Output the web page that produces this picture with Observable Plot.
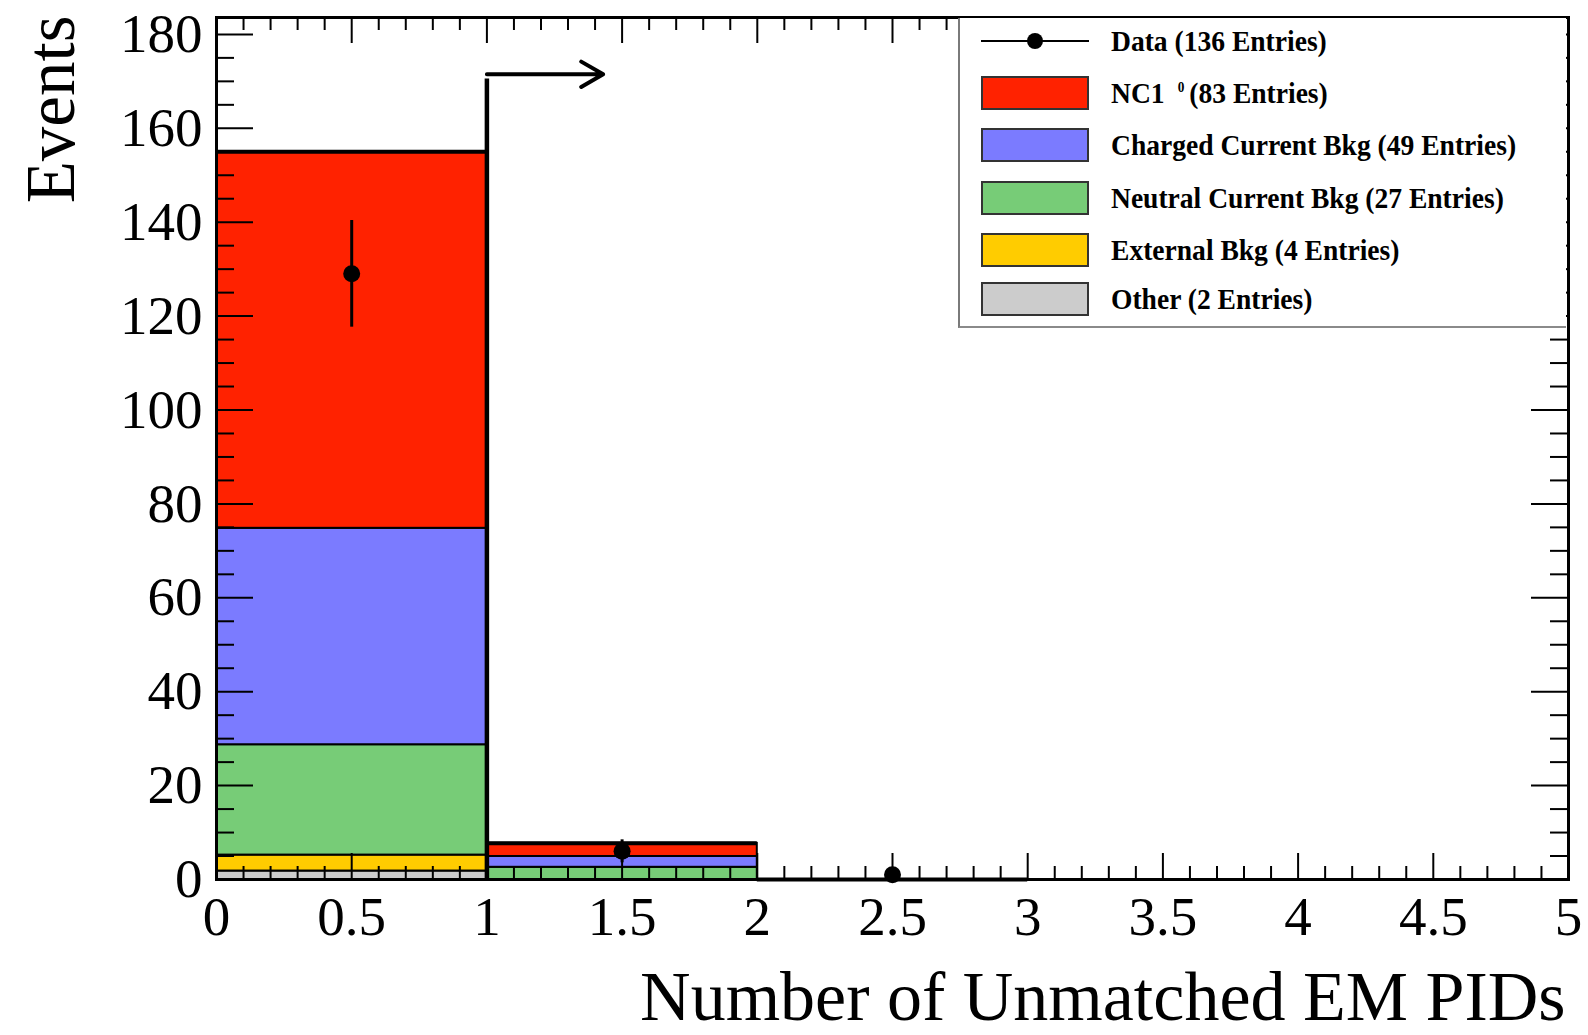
<!DOCTYPE html>
<html>
<head>
<meta charset="utf-8">
<script src="https://cdn.jsdelivr.net/npm/d3@7"></script>
<script src="https://cdn.jsdelivr.net/npm/@observablehq/plot@0.6"></script>
<style>
  html, body { margin: 0; padding: 0; background: #fff; }
  #chart { position: relative; width: 1588px; height: 1035px; overflow: hidden; }
  #legend {
    position: absolute; left: 958px; top: 18px; width: 608px; height: 310px;
    box-sizing: border-box; background: #fff;
    border-left: 2px solid #7a7a7a; border-bottom: 2px solid #8a8a8a;
    font-family: "Liberation Serif", "Times New Roman", serif; font-weight: bold; color: #000;
  }
  .row { position: absolute; left: 0; width: 100%; height: 0; }
  .swatch { position: absolute; left: 21px; width: 108px; height: 34px; top: -17px;
            box-sizing: border-box; border: 2px solid #333; }
  .mline { position: absolute; left: 21px; width: 108px; height: 2px; top: -1px; background: #000; }
  .mdot { position: absolute; left: 67px; width: 16px; height: 16px; top: -8px; border-radius: 50%; background: #000; }
  .label { position: absolute; left: 151px; top: -18px; font-size: 29px; line-height: 36px;
           white-space: nowrap; transform: scaleX(0.95); transform-origin: left center; }
  .label .sup { position: relative; top: -11px; font-size: 14px; margin-left: 14px; margin-right: 5px; }
</style>
</head>
<body>
<div id="chart"><div id="legend"></div></div>
<script>
// Histogram bins: number of unmatched EM PIDs
const binLo = [0, 1, 2];
const binHi = [1, 2, 3];

// Stacked Monte Carlo components (bottom to top)
const layerNames  = ["Other", "External Bkg", "Neutral Current Bkg", "Charged Current Bkg", "NC1pi0"];
const layerColors = ["#cccccc", "#ffcc00", "#77cc77", "#7b7bff", "#ff2200"];
const otherVals    = [1.8, 0, 0];
const externalVals = [3.4, 0, 0];
const neutralVals  = [23.5, 2.6, 0];
const chargedVals  = [46.1, 2.3, 0];
const nc1pi0Vals   = [80.2, 2.8, 0];
const layerValues  = [otherVals, externalVals, neutralVals, chargedVals, nc1pi0Vals];

// Observed data (bin centres and counts)
const dataX = [0.5, 1.5, 2.5];
const dataY = [129, 6, 1];

// Selection cut: x = 1 with an arrow towards accepted region
const cutX = 1;
const cutLineTop = 170.5;
const cutArrowY = 171.5;
const cutArrowEnd = 1.43;

// Axis ticks
const xTickLabels = [0, 0.5, 1, 1.5, 2, 2.5, 3, 3.5, 4, 4.5, 5];
const yTickLabels = [0, 20, 40, 60, 80, 100, 120, 140, 160, 180];
const xMinor = d3.range(0, 51).map(i => i / 10).filter(v => !xTickLabels.includes(v));
const yMinor = d3.range(0, 37).map(i => i * 5).filter(v => !yTickLabels.includes(v));

// Legend entries
const legendLabels = [
  "Data (136 Entries)",
  "NC1|(83 Entries)",
  "Charged Current Bkg (49 Entries)",
  "Neutral Current Bkg (27 Entries)",
  "External Bkg (4 Entries)",
  "Other (2 Entries)"
];

// Build stacked rectangles
const rects = [];
const totals = [];
binLo.forEach((lo, i) => {
  let base = 0;
  layerValues.forEach((vals, k) => {
    const v = vals[i];
    if (v > 0) rects.push({lo, hi: binHi[i], y1: base, y2: base + v, color: layerColors[k]});
    base += v;
  });
  totals.push({lo, hi: binHi[i], total: base});
});
const points = dataX.map((x, i) => ({x, y: dataY[i], lo: dataY[i] - Math.sqrt(dataY[i]), hi: dataY[i] + Math.sqrt(dataY[i])}));

const W = 1588, H = 1035;
const mL = 216, mR = 20, mT = 17, mB = 156;
const innerW = W - mL - mR, innerH = H - mT - mB;
const serif = "Liberation Serif";

const chart = Plot.plot({
  width: W, height: H,
  marginLeft: mL, marginRight: mR, marginTop: mT, marginBottom: mB,
  x: {domain: [0, 5]},
  y: {domain: [0, 183.6]},
  style: {fontFamily: serif, color: "#000", background: "#fff", overflow: "visible"},
  marks: [
    Plot.rect(rects, {x1: "lo", x2: "hi", y1: "y1", y2: "y2", fill: "color", stroke: "#000", strokeWidth: 2}),
    Plot.ruleY(totals, {x1: "lo", x2: "hi", y: "total", stroke: "#000", strokeWidth: 4}),
    Plot.ruleX([cutX], {x: d => d, y1: 0, y2: cutLineTop, stroke: "#000", strokeWidth: 4.5}),
    Plot.arrow([cutX], {x1: d => d, x2: cutArrowEnd, y1: cutArrowY, y2: cutArrowY,
      stroke: "#000", strokeWidth: 4, headLength: 9.5, headAngle: 60}),
    Plot.ruleX(points, {x: "x", y1: "lo", y2: "hi", stroke: "#000", strokeWidth: 3}),
    Plot.dot(points, {x: "x", y: "y", r: 8.5, fill: "#000"}),
    // inward ticks on all four sides
    Plot.ruleX(xTickLabels, {insetTop: innerH - 26, strokeWidth: 2}),
    Plot.ruleX(xMinor, {insetTop: innerH - 13, strokeWidth: 2}),
    Plot.ruleX(xTickLabels, {insetBottom: innerH - 26, strokeWidth: 2}),
    Plot.ruleX(xMinor, {insetBottom: innerH - 13, strokeWidth: 2}),
    Plot.ruleY(yTickLabels, {insetRight: innerW - 37, strokeWidth: 2}),
    Plot.ruleY(yMinor, {insetRight: innerW - 18, strokeWidth: 2}),
    Plot.ruleY(yTickLabels, {insetLeft: innerW - 37, strokeWidth: 2}),
    Plot.ruleY(yMinor, {insetLeft: innerW - 18, strokeWidth: 2}),
    Plot.frame({stroke: "#000", strokeWidth: 3}),
    Plot.axisX({ticks: xTickLabels, tickSize: 0, tickPadding: 16, fontSize: 55, fontFamily: serif,
      tickFormat: d => String(d), label: null}),
    Plot.axisY({ticks: yTickLabels, tickSize: 0, tickPadding: 14, fontSize: 55, fontFamily: serif,
      tickFormat: d => String(d), label: null}),
    Plot.text(["Events"], {frameAnchor: "top-left", rotate: -90, textAnchor: "end", lineAnchor: "top",
      dx: -192, dy: -2, fontSize: 69, fontFamily: serif, fill: "#000"}),
    Plot.text(["Number of Unmatched EM PIDs"], {frameAnchor: "bottom-right", textAnchor: "end",
      lineAnchor: "bottom", dx: -3, dy: 140, fontSize: 70, fontFamily: serif, fill: "#000"})
  ]
});
document.getElementById("chart").prepend(chart);

// Legend
const legend = document.getElementById("legend");
const rowCenters = [23, 75, 127, 179.5, 232, 281];
const swatchColors = [null, layerColors[4], layerColors[3], layerColors[2], layerColors[1], layerColors[0]];
legendLabels.forEach((text, i) => {
  const row = document.createElement("div");
  row.className = "row";
  row.style.top = rowCenters[i] + "px";
  if (i === 0) {
    row.innerHTML = '<div class="mline"></div><div class="mdot"></div>';
  } else {
    const sw = document.createElement("div");
    sw.className = "swatch";
    sw.style.background = swatchColors[i];
    row.appendChild(sw);
  }
  const lab = document.createElement("div");
  lab.className = "label";
  if (text.includes("|")) {
    const [a, b] = text.split("|");
    lab.innerHTML = a + '<span class="sup">0</span>' + b;
  } else {
    lab.textContent = text;
  }
  row.appendChild(lab);
  legend.appendChild(row);
});
</script>
</body>
</html>
